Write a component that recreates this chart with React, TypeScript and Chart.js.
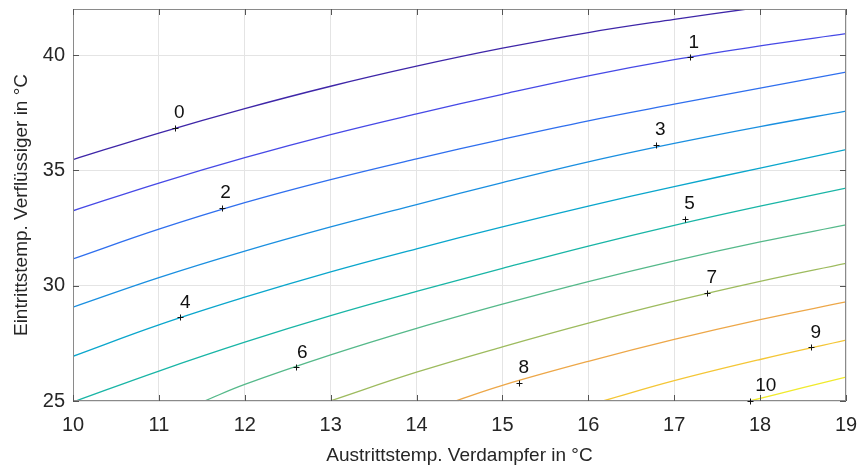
import React, { useEffect, useRef } from "react";
import { Chart, registerables } from "chart.js";

Chart.register(...registerables);

// Contour levels and their traced points (x = Austrittstemp. Verdampfer, y = Eintrittstemp. Verflüssiger)
const levels = [0, 1, 2, 3, 4, 5, 6, 7, 8, 9, 10];

const line0X = [10, 11, 12, 13, 14, 15, 16, 17, 17.85];
const line0Y = [35.47, 36.62, 37.68, 38.65, 39.52, 40.3, 40.98, 41.55, 42.0];
const line1X = [10, 11, 12, 13, 14, 15, 16, 17, 18, 19];
const line1Y = [33.25, 34.45, 35.55, 36.55, 37.45, 38.3, 39.1, 39.8, 40.4, 40.93];
const line2X = [10, 11, 12, 13, 14, 15, 16, 17, 18, 19];
const line2Y = [31.16, 32.45, 33.6, 34.6, 35.5, 36.35, 37.15, 37.87, 38.57, 39.26];
const line3X = [10, 11, 12, 13, 14, 15, 16, 17, 18, 19];
const line3Y = [29.07, 30.35, 31.5, 32.55, 33.52, 34.47, 35.37, 36.17, 36.9, 37.57];
const line4X = [10, 11, 12, 13, 14, 15, 16, 17, 18, 19];
const line4Y = [26.94, 28.3, 29.5, 30.6, 31.6, 32.55, 33.45, 34.3, 35.1, 35.9];
const line5X = [10.03, 11, 12, 13, 14, 15, 16, 17, 18, 19];
const line5Y = [25.0, 26.3, 27.55, 28.7, 29.75, 30.75, 31.72, 32.62, 33.45, 34.23];
const line6X = [11.53, 12, 13, 14, 15, 16, 17, 18, 19];
const line6Y = [25.0, 25.72, 27.0, 28.15, 29.2, 30.18, 31.08, 31.9, 32.64];
const line7X = [12.99, 14, 15, 16, 17, 18, 19];
const line7Y = [25.0, 26.25, 27.35, 28.38, 29.33, 30.19, 30.97];
const line8X = [14.45, 15, 16, 17, 18, 19];
const line8Y = [25.0, 25.68, 26.72, 27.67, 28.53, 29.3];
const line9X = [16.17, 17, 18, 19];
const line9Y = [25.0, 25.88, 26.8, 27.64];
const line10X = [17.88, 18.5, 19];
const line10Y = [25.0, 25.58, 26.04];

const lineXs = [line0X, line1X, line2X, line3X, line4X, line5X, line6X, line7X, line8X, line9X, line10X];
const lineYs = [line0Y, line1Y, line2Y, line3Y, line4Y, line5Y, line6Y, line7Y, line8Y, line9Y, line10Y];

// Contour label anchor points (clabel "+" markers)
const labelX = [11.19, 17.18, 11.73, 16.79, 11.25, 17.12, 12.6, 17.38, 15.19, 18.59, 17.88];
const labelY = [36.86, 39.9, 33.37, 36.12, 28.63, 32.9, 26.46, 29.68, 25.8, 27.33, 25.0];

const xTicks = [10, 11, 12, 13, 14, 15, 16, 17, 18, 19];
const yTicks = [25, 30, 35, 40];

const xTitle = "Austrittstemp. Verdampfer in °C";
const yTitle = "Eintrittstemp. Verflüssiger in °C";

// parula-like colours for levels 0..10
const levelColors = [
  "#3e26a8",
  "#4649e6",
  "#2f6fee",
  "#1a8fe0",
  "#0aa6cc",
  "#19b5a6",
  "#55b98a",
  "#9dbb5e",
  "#eda748",
  "#f4c636",
  "#f0ea2c",
];

// horizontal pixel shift of each label's text relative to its marker
const labelTextShift = [4, 4, 4, 4, 5, 5, 6, 5, 5, 5, 16];

const FONT = "'Liberation Sans', Arial, Helvetica, sans-serif";
const TEXT = "#262626";

const framePlugin = {
  id: "frame",
  afterDatasetsDraw(chart: any) {
    const { ctx, chartArea: a, scales } = chart;
    ctx.save();
    ctx.strokeStyle = "#8a8a8a";
    ctx.lineWidth = 1;
    ctx.strokeRect(a.left + 0.5, a.top + 0.5, a.right - a.left - 1, a.bottom - a.top - 1);
    ctx.strokeStyle = "#555";
    ctx.beginPath();
    const tl = 6;
    xTicks.forEach((v) => {
      const px = Math.round(scales.x.getPixelForValue(v)) + 0.5;
      ctx.moveTo(px, a.bottom);
      ctx.lineTo(px, a.bottom - tl);
      ctx.moveTo(px, a.top);
      ctx.lineTo(px, a.top + tl);
    });
    yTicks.forEach((v) => {
      const py = Math.round(scales.y.getPixelForValue(v)) + 0.5;
      ctx.moveTo(a.left, py);
      ctx.lineTo(a.left + tl, py);
      ctx.moveTo(a.right, py);
      ctx.lineTo(a.right - tl, py);
    });
    ctx.stroke();
    // clabel markers
    ctx.strokeStyle = "#111";
    ctx.beginPath();
    levels.forEach((_, i) => {
      const px = Math.round(scales.x.getPixelForValue(labelX[i])) + 0.5;
      const py = Math.round(scales.y.getPixelForValue(labelY[i])) + 0.5;
      ctx.moveTo(px - 3, py);
      ctx.lineTo(px + 3, py);
      ctx.moveTo(px, py - 3);
      ctx.lineTo(px, py + 3);
    });
    ctx.stroke();
    ctx.fillStyle = "#111";
    ctx.font = `19px ${FONT}`;
    ctx.textAlign = "center";
    ctx.textBaseline = "middle";
    levels.forEach((lv, i) => {
      const px = scales.x.getPixelForValue(labelX[i]);
      const py = scales.y.getPixelForValue(labelY[i]);
      ctx.fillText(String(lv), px + labelTextShift[i], py - 15);
    });
    ctx.restore();
  },
};

export default function App() {
  const ref = useRef<HTMLCanvasElement | null>(null);

  useEffect(() => {
    if (!ref.current) return;
    const lineSets = levels.map((lv, i) => ({
      label: `Level ${lv}`,
      data: lineXs[i].map((x, j) => ({ x, y: lineYs[i][j] })),
      showLine: true,
      borderColor: levelColors[i],
      backgroundColor: levelColors[i],
      borderWidth: 1.3,
      pointRadius: 0,
      tension: 0.4,
    }));
    const chart = new Chart(ref.current, {
      type: "scatter",
      data: { datasets: lineSets as any },
      options: {
        animation: false,
        responsive: false,
        maintainAspectRatio: false,
        layout: { padding: { top: 9, right: 15, left: 0, bottom: 0 } },
        plugins: {
          legend: { display: false },
          tooltip: { enabled: false },
        },
        scales: {
          x: {
            type: "linear",
            min: 10,
            max: 19,
            afterBuildTicks: (s: any) => {
              s.ticks = xTicks.map((v) => ({ value: v }));
            },
            afterFit: (s: any) => {
              s.height = 71;
              s.paddingLeft = 0;
              s.paddingRight = 0;
            },
            ticks: {
              color: TEXT,
              font: { family: FONT, size: 20 },
              padding: 12,
            },
            grid: { color: "#e4e4e4", drawTicks: false, lineWidth: 1 },
            border: { display: false },
            title: {
              display: true,
              text: xTitle,
              color: TEXT,
              font: { family: FONT, size: 19 },
              padding: { top: 2, bottom: 5 },
            },
          },
          y: {
            type: "linear",
            min: 25,
            max: 42,
            afterBuildTicks: (s: any) => {
              s.ticks = yTicks.map((v) => ({ value: v }));
            },
            afterFit: (s: any) => {
              s.width = 73;
              s.paddingTop = 0;
              s.paddingBottom = 0;
            },
            ticks: {
              color: TEXT,
              font: { family: FONT, size: 20 },
              padding: 8,
            },
            grid: { color: "#e4e4e4", drawTicks: false, lineWidth: 1 },
            border: { display: false },
            title: {
              display: true,
              text: yTitle,
              color: TEXT,
              font: { family: FONT, size: 19 },
              padding: { top: 10, bottom: 0 },
            },
          },
        },
      },
      plugins: [framePlugin],
    });
    return () => chart.destroy();
  }, []);

  return (
    <div style={{ position: "fixed", left: 0, top: 0, width: 861, height: 472, background: "#fff" }}>
      <canvas ref={ref} width={861} height={472} style={{ width: 861, height: 472, display: "block" }} />
    </div>
  );
}
